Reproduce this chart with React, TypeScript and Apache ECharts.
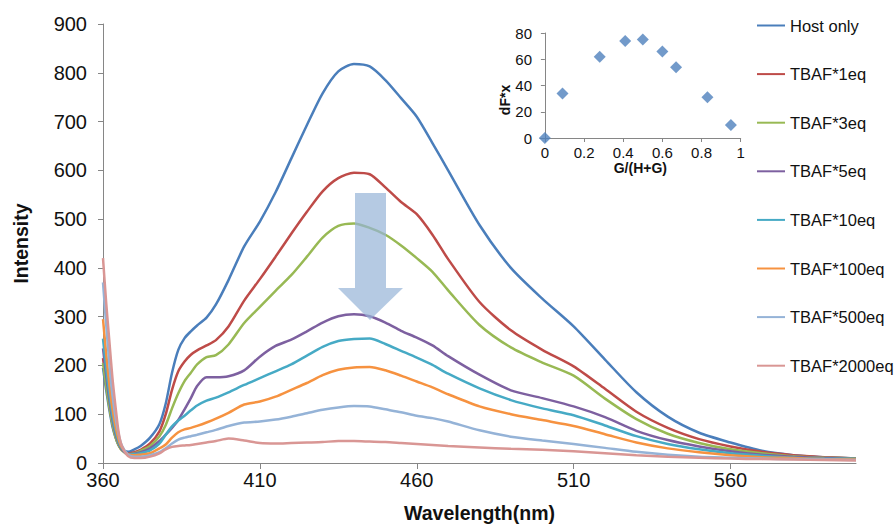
import React, { useEffect, useRef } from "react";
import * as echarts from "echarts";

const FONT = "'Liberation Sans', Arial, sans-serif";

const wavelengths = [
  360, 361, 362, 363, 364, 365, 366, 368, 370, 372,
  375, 378, 380, 382, 384, 386, 388, 390, 393, 396,
  400, 405, 410, 415, 420, 425, 430, 435, 440, 445,
  450, 455, 460, 465, 470, 480, 490, 500, 510, 520,
  530, 540, 550, 560, 570, 580, 590, 600,
];

const hostOnly = [
  195, 150, 110, 75, 52, 36, 28, 23, 28, 35,
  52, 80, 122, 185, 232, 256, 270, 282, 298, 325,
  375, 444, 495, 555, 624, 693, 758, 803, 818, 813,
  785, 748, 710, 656, 600, 488, 400, 337, 280, 212,
  145, 95, 62, 42, 25, 16, 12, 9,
];
const tbaf1 = [
  215, 165, 120, 82, 55, 37, 27, 19, 22, 27,
  40, 65, 100, 150, 188, 208, 222, 231, 241, 252,
  280, 333, 377, 423, 470, 515, 557, 584, 595, 592,
  565, 535, 510, 468, 418, 330, 272, 232, 198, 152,
  105, 72, 49, 34, 23, 16, 12, 9,
];
const tbaf3 = [
  205, 158, 115, 80, 53, 36, 26, 18, 20, 25,
  35, 55, 78, 112, 143, 168, 185, 202, 217, 221,
  243, 287, 320, 353, 385, 423, 462, 486, 491, 482,
  468, 446, 420, 392, 354, 283, 237, 206, 179, 132,
  90, 60, 41, 28, 20, 14, 11, 9,
];
const tbaf5 = [
  235, 180, 130, 90, 60, 40, 28, 18, 19, 22,
  30, 45, 58, 72, 88, 110, 133, 158, 176, 176,
  178, 190, 218, 240, 253, 270, 288, 301, 305, 301,
  288, 271, 257, 241, 219, 181, 149, 133, 116, 94,
  66, 47, 34, 24, 17, 13, 10, 8,
];
const tbaf10 = [
  255, 195, 142, 98, 65, 43, 30, 18, 18, 20,
  26, 40, 58, 75, 87, 97, 108, 118, 128, 134,
  145, 160, 174, 188, 202, 220, 238, 250, 254, 255,
  244, 230, 216, 201, 183, 153, 129, 112, 98, 77,
  55, 39, 28, 20, 15, 11, 9, 8,
];
const tbaf100 = [
  295, 225, 163, 112, 75, 48, 32, 18, 16, 17,
  20, 30, 38, 52, 63, 69, 72, 76, 83, 91,
  103, 120, 126, 136, 150, 164, 180, 191, 196, 197,
  190, 179, 167, 155, 141, 116, 100, 88, 76, 59,
  42, 30, 22, 16, 12, 10, 8, 7,
];
const tbaf500 = [
  370, 285, 205, 140, 92, 58, 36, 17, 13, 13,
  16, 22, 30, 40, 48, 52, 55, 58, 63, 68,
  76, 83, 85, 89, 95, 102, 109, 114, 117, 116,
  110, 104, 97, 92, 85, 67, 54, 46, 39, 31,
  23, 17, 13, 11, 9, 8, 7, 6,
];
const tbaf2000 = [
  420, 330, 252, 175, 115, 62, 35, 14, 10, 10,
  13, 20, 28, 33, 35, 36, 37, 39, 42, 45,
  50, 46, 41, 40, 41, 42, 43, 45, 45, 44,
  43, 41, 39, 37, 35, 32, 29, 27, 24, 20,
  16, 13, 11, 9, 8, 7, 6, 5,
];

const seriesNames = [
  "Host only", "TBAF*1eq", "TBAF*3eq", "TBAF*5eq",
  "TBAF*10eq", "TBAF*100eq", "TBAF*500eq", "TBAF*2000eq",
];
const seriesValues = [hostOnly, tbaf1, tbaf3, tbaf5, tbaf10, tbaf100, tbaf500, tbaf2000];
const seriesColors = [
  "#4A7EBB", "#BE4B48", "#98B954", "#7D60A0",
  "#46AAC5", "#F69240", "#95B3D7", "#D99694",
];

const xTickValues = [360, 410, 460, 510, 560];

// inset: G/(H+G) vs dF*x
const ratioGH = [0, 0.09, 0.28, 0.41, 0.5, 0.6, 0.67, 0.83, 0.95];
const dFx = [0, 34, 62, 74, 75, 66, 54, 31, 10];
const insetXTicks = [0, 0.2, 0.4, 0.6, 0.8, 1];

export default function App() {
  const ref = useRef<HTMLDivElement>(null);
  useEffect(() => {
    const chart = echarts.init(ref.current!, null, { renderer: "svg" });
    const lineSeries = seriesNames.map((name, i) => ({
      name,
      type: "line",
      xAxisIndex: 0,
      yAxisIndex: 0,
      data: wavelengths.map((w, j) => [w, seriesValues[i][j]]),
      symbol: "none",
      smooth: 0.25,
      lineStyle: { width: 2.5, color: seriesColors[i] },
      itemStyle: { color: seriesColors[i] },
    }));
    const option = {
      animation: false,
      backgroundColor: "#ffffff",
      textStyle: { fontFamily: FONT },
      legend: {
        orient: "vertical",
        left: 756,
        top: 17,
        padding: 0,
        itemWidth: 28,
        itemHeight: 17,
        itemGap: 31.6,
        data: seriesNames,
        itemStyle: { opacity: 0 },
        textStyle: { fontSize: 16.5, color: "#111", fontFamily: FONT },
      },
      grid: [
        { left: 103, top: 24, right: 40, bottom: 65 },
        { left: 540, top: 33, width: 200.7, height: 105 },
      ],
      xAxis: [
        {
          type: "value",
          gridIndex: 0,
          min: 360,
          max: 600,
          interval: 50,
          name: "Wavelength(nm)",
          nameLocation: "middle",
          nameGap: 40,
          nameTextStyle: { fontSize: 19.5, fontWeight: "bold", color: "#111", fontFamily: FONT },
          axisLine: { show: true, onZero: false, lineStyle: { color: "#868686", width: 1 } },
          axisTick: { show: true, length: 6, customValues: xTickValues, lineStyle: { color: "#868686" } },
          axisLabel: { fontSize: 20, color: "#111", margin: 7, customValues: xTickValues, fontFamily: FONT },
          splitLine: { show: false },
        },
        {
          type: "value",
          gridIndex: 1,
          min: -0.025,
          max: 1,
          name: "G/(H+G)",
          nameLocation: "middle",
          nameGap: 23,
          nameTextStyle: { fontSize: 14, fontWeight: "bold", color: "#111", fontFamily: FONT },
          axisLine: { show: true, onZero: false, lineStyle: { color: "#868686", width: 1 } },
          axisTick: { show: true, length: 4, customValues: insetXTicks, lineStyle: { color: "#868686" } },
          axisLabel: { fontSize: 15, color: "#111", margin: 7, customValues: insetXTicks, fontFamily: FONT },
          splitLine: { show: false },
        },
      ],
      yAxis: [
        {
          type: "value",
          gridIndex: 0,
          min: 0,
          max: 900,
          interval: 100,
          name: "Intensity",
          nameLocation: "middle",
          nameGap: 72,
          nameTextStyle: { fontSize: 19.5, fontWeight: "bold", color: "#111", fontFamily: FONT },
          axisLine: { show: true, lineStyle: { color: "#868686", width: 1 } },
          axisTick: { show: true, length: 5, lineStyle: { color: "#868686" } },
          axisLabel: { fontSize: 20, color: "#111", margin: 16, fontFamily: FONT },
          splitLine: { show: false },
        },
        {
          type: "value",
          gridIndex: 1,
          min: 0,
          max: 80,
          interval: 20,
          axisLine: { show: true, lineStyle: { color: "#868686", width: 1 } },
          axisTick: { show: true, length: 4, lineStyle: { color: "#868686" } },
          axisLabel: { fontSize: 15, color: "#111", margin: 8, fontFamily: FONT },
          splitLine: { show: false },
        },
      ],
      graphic: [
        {
          type: "polygon",
          z: 100,
          shape: {
            points: [
              [355, 193], [386, 193], [386, 288], [403, 288],
              [370, 320], [338, 288], [355, 288],
            ],
          },
          style: { fill: "rgba(149,179,215,0.7)" },
        },
        {
          type: "text",
          z: 100,
          x: 505,
          y: 100,
          rotation: Math.PI / 2,
          style: {
            text: "dF*x",
            fontSize: 14,
            fontWeight: "bold",
            fill: "#111",
            fontFamily: FONT,
            align: "center",
            verticalAlign: "middle",
          },
        },
      ],
      series: [
        ...lineSeries,
        {
          name: "dF*x",
          type: "scatter",
          xAxisIndex: 1,
          yAxisIndex: 1,
          data: ratioGH.map((r, i) => [r, dFx[i]]),
          symbol: "diamond",
          symbolSize: 12,
          itemStyle: { color: "#4F81BD" },
        },
      ],
    };
    chart.setOption(option as any);
    return () => chart.dispose();
  }, []);
  return (
    <div
      ref={ref}
      style={{ position: "absolute", left: 0, top: 0, width: 896, height: 528 }}
    />
  );
}
